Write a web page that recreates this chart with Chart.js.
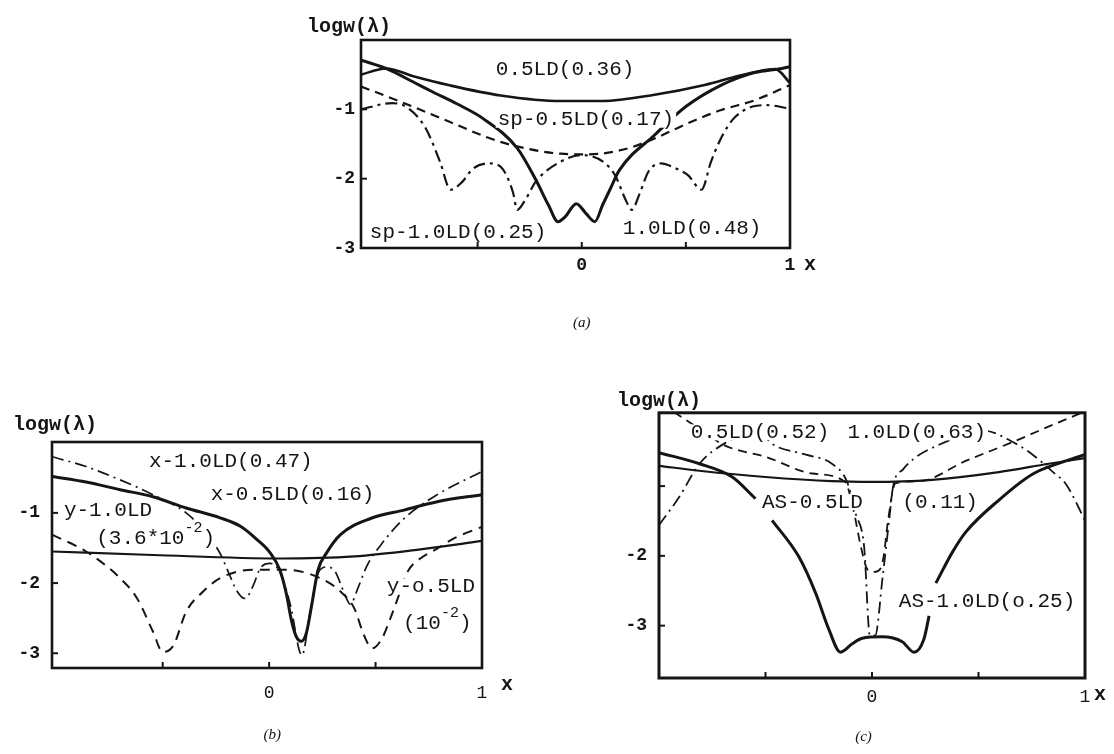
<!DOCTYPE html>
<html>
<head>
<meta charset="utf-8">
<script src="https://cdn.jsdelivr.net/npm/chart.js@4.4.1/dist/chart.umd.min.js"></script>
<style>
  html, body { margin: 0; padding: 0; background: #fff; }
  body { width: 1114px; height: 754px; position: relative; overflow: hidden; }
  canvas { position: absolute; }
</style>
</head>
<body>
<canvas id="chartA" width="550" height="340" style="left:290px;top:0px"></canvas>
<canvas id="chartB" width="540" height="354" style="left:0px;top:400px"></canvas>
<canvas id="chartC" width="524" height="364" style="left:590px;top:390px"></canvas>
<script>
// ---- panel (a) ----
const aX_05LD = [-1.06, -0.94, -0.8, -0.64, -0.39, -0.1, 0.1, 0.35, 0.59, 0.75, 0.85, 0.93, 1.0];
const aY_05LD = [-0.5, -0.41, -0.53, -0.65, -0.8, -0.88, -0.88, -0.79, -0.65, -0.52, -0.45, -0.42, -0.62];
const aX_10LD = [-1.06, -0.94, -0.8, -0.715, -0.6, -0.475, -0.31, -0.22, -0.16, -0.114, -0.08, -0.026, 0.02, 0.063, 0.1, 0.135, 0.18, 0.35, 0.5, 0.67, 0.83, 0.96, 1.0];
const aY_10LD = [-0.29, -0.41, -0.62, -0.75, -0.92, -1.13, -1.56, -2.02, -2.38, -2.62, -2.55, -2.36, -2.5, -2.62, -2.38, -2.16, -1.88, -1.37, -0.96, -0.65, -0.47, -0.41, -0.385];
const aX_sp05 = [-1.06, -0.87, -0.635, -0.39, -0.1, 0.03, 0.2, 0.35, 0.51, 0.67, 0.83, 1.0];
const aY_sp05 = [-0.67, -0.89, -1.18, -1.47, -1.64, -1.65, -1.58, -1.42, -1.2, -1.01, -0.87, -0.65];
const aX_sp10 = [-1.06, -0.91, -0.83, -0.75, -0.68, -0.63, -0.575, -0.52, -0.44, -0.38, -0.33, -0.31, -0.27, -0.22, -0.105, 0, 0.1, 0.16, 0.21, 0.24, 0.28, 0.32, 0.38, 0.45, 0.51, 0.575, 0.62, 0.66, 0.7, 0.74, 0.82, 0.89, 1.0];
const aY_sp10 = [-1.0, -0.91, -0.99, -1.27, -1.76, -2.16, -2.05, -1.85, -1.78, -1.86, -2.2, -2.45, -2.3, -2.04, -1.76, -1.66, -1.75, -1.95, -2.3, -2.45, -2.2, -1.9, -1.78, -1.85, -1.95, -2.16, -1.76, -1.47, -1.25, -1.1, -0.96, -0.94, -0.99];
const aXTicks = [-0.5, 0, 0.5, 1];
const aXTickText = ['', '0', '', '1'];
const aYTicks = [-1, -2, -3];
const aYTickText = ['-1', '-2', '-3'];

// ---- panel (b) ----
const bX_x10 = [-1.02, -0.86, -0.7, -0.546, -0.39, -0.295, -0.23, -0.192, -0.15, -0.113, -0.074, -0.042, 0.005, 0.05, 0.099, 0.154, 0.193, 0.233, 0.272, 0.311, 0.35, 0.381, 0.42, 0.46, 0.524, 0.634, 0.79, 1.0];
const bY_x10 = [-0.2, -0.34, -0.53, -0.74, -1.0, -1.29, -1.58, -1.84, -2.12, -2.22, -2.03, -1.79, -1.72, -1.84, -2.3, -3.03, -2.41, -1.84, -1.77, -1.84, -2.12, -2.3, -2.05, -1.75, -1.46, -1.08, -0.74, -0.41];
const bX_x05 = [-1.02, -0.86, -0.7, -0.546, -0.39, -0.23, -0.135, -0.057, 0.005, 0.05, 0.08, 0.104, 0.127, 0.151, 0.175, 0.199, 0.23, 0.27, 0.335, 0.476, 0.634, 0.79, 1.0];
const bY_x05 = [-0.48, -0.56, -0.67, -0.77, -0.93, -1.07, -1.19, -1.38, -1.57, -1.81, -2.14, -2.52, -2.76, -2.83, -2.71, -2.33, -1.81, -1.57, -1.31, -1.08, -0.96, -0.84, -0.74];
const bX_y10 = [-1.02, -0.86, -0.7, -0.62, -0.546, -0.5, -0.45, -0.39, -0.31, -0.23, -0.074, 0.08, 0.24, 0.335, 0.4, 0.445, 0.484, 0.53, 0.57, 0.61, 0.65, 0.71, 0.79, 0.87, 1.0];
const bY_y10 = [-1.31, -1.55, -1.93, -2.22, -2.69, -2.98, -2.89, -2.41, -2.12, -1.93, -1.81, -1.81, -1.93, -2.12, -2.36, -2.74, -2.93, -2.79, -2.5, -2.17, -1.84, -1.65, -1.51, -1.36, -1.2];
const bX_y05 = [-1.02, -0.546, 0.05, 0.4, 0.71, 1.0];
const bY_y05 = [-1.55, -1.6, -1.65, -1.62, -1.52, -1.4];
const bXTicks = [-0.5, 0, 0.5, 1];
const bXTickText = ['', '0', '', '1'];
const bYTicks = [-1, -2, -3];
const bYTickText = ['-1', '-2', '-3'];

// ---- panel (c) ----
const cX_as10 = [-1.0, -0.81, -0.656, -0.547, -0.51, -0.469, -0.344, -0.265, -0.203, -0.148, -0.093, -0.046, 0.048, 0.142, 0.197, 0.244, 0.268, 0.284, 0.3, 0.377, 0.44, 0.596, 0.753, 0.91, 1.0];
const cY_as10 = [-0.52, -0.68, -0.87, -1.18, null, -1.49, -2.01, -2.53, -3.05, -3.38, -3.26, -3.18, -3.16, -3.23, -3.38, -3.19, -2.86, null, -2.39, -1.95, -1.66, -1.2, -0.83, -0.64, -0.55];
const cX_as05 = [-1.0, -0.81, -0.5, -0.188, 0.0, 0.282, 0.596, 0.83, 1.0];
const cY_as05 = [-0.71, -0.78, -0.87, -0.93, -0.94, -0.91, -0.8, -0.68, -0.6];
const cX_05 = [-1.0, -0.906, -0.81, -0.687, -0.55, -0.45, -0.31, -0.188, -0.117, -0.076, -0.037, -0.01, 0.015, 0.05, 0.08, 0.1, 0.146, 0.2, 0.32, 0.45, 0.53, 0.65, 0.75, 0.85, 0.91, 1.0];
const cY_05 = [-1.56, -1.16, -0.68, -0.38, -0.22, -0.43, -0.55, -0.68, -0.94, -1.4, -1.87, -3.14, -3.14, -2.3, -1.5, -0.99, -0.76, -0.6, -0.4, -0.25, -0.21, -0.35, -0.54, -0.8, -0.97, -1.49];
const cX_10 = [-0.93, -0.8, -0.69, -0.5, -0.28, -0.126, -0.09, -0.05, -0.02, 0.01, 0.04, 0.055, 0.075, 0.11, 0.22, 0.44, 0.675, 0.85, 1.0];
const cY_10 = [0.06, -0.2, -0.42, -0.58, -0.82, -0.94, -1.3, -1.9, -2.2, -2.23, -2.18, -2.0, -1.5, -0.96, -0.93, -0.64, -0.35, -0.12, 0.07];
const cXTicks = [-0.5, 0, 0.5, 1];
const cXTickText = ['', '0', '', '1'];
const cYTicks = [-1, -2, -3];
const cYTickText = ['', '-2', '-3'];

const INK = '#151515';
const MONO = 'Liberation Mono';
const LABEL_FONT = '21px "' + MONO + '"';
const SUP_FONT = '15px "' + MONO + '"';
const AXIS_FONT = 'bold 20px "' + MONO + '"';
const CAPTION_FONT = 'italic 15px "Liberation Serif"';

function curve(xs, ys, width, dash) {
  return {
    data: xs.map((x, i) => ({ x: x, y: ys[i] })),
    borderColor: INK,
    borderWidth: width,
    borderDash: dash || [],
    pointRadius: 0,
    fill: false,
    spanGaps: false,
    cubicInterpolationMode: 'monotone'
  };
}

// text label centred on a data point, with an optional superscript part
function drawLabel(ctx, l, px, py) {
  const sup = l.sup || '', tail = l.tail || '';
  ctx.font = LABEL_FONT;
  const w1 = ctx.measureText(l.text).width;
  const w3 = ctx.measureText(tail).width;
  ctx.font = SUP_FONT;
  const w2 = ctx.measureText(sup).width;
  const total = w1 + w2 + w3;
  let sx = px - total / 2;
  ctx.fillStyle = '#fff';
  ctx.fillRect(sx - 2, py - 8 - (sup ? 8 : 0), total + 4, 16 + (sup ? 8 : 0));
  ctx.fillStyle = INK;
  ctx.textAlign = 'left';
  ctx.textBaseline = 'middle';
  ctx.font = LABEL_FONT;
  ctx.fillText(l.text, sx, py);
  if (sup) {
    ctx.font = SUP_FONT;
    ctx.fillText(sup, sx + w1, py - 10);
    ctx.font = LABEL_FONT;
    ctx.fillText(tail, sx + w1 + w2, py);
  }
}

const decor = {
  id: 'decor',
  afterDatasetsDraw(chart, args, o) {
    const ctx = chart.ctx, ca = chart.chartArea;
    const xs = chart.scales.x, ys = chart.scales.y;
    ctx.save();
    o.labels.forEach(l => drawLabel(ctx, l, xs.getPixelForValue(l.x), ys.getPixelForValue(l.y)));
    // box round the plot
    ctx.strokeStyle = INK;
    ctx.lineWidth = o.frameWidth;
    ctx.strokeRect(ca.left, ca.top, ca.right - ca.left, ca.bottom - ca.top);
    // small inward ticks
    ctx.lineWidth = 2;
    o.innerX.forEach(v => {
      const p = xs.getPixelForValue(v);
      ctx.beginPath(); ctx.moveTo(p, ca.bottom); ctx.lineTo(p, ca.bottom - 6); ctx.stroke();
    });
    o.innerY.forEach(v => {
      const p = ys.getPixelForValue(v);
      ctx.beginPath(); ctx.moveTo(ca.left, p); ctx.lineTo(ca.left + 6, p); ctx.stroke();
    });
    // axis names and caption
    ctx.fillStyle = INK;
    ctx.font = AXIS_FONT;
    ctx.textBaseline = 'middle';
    ctx.textAlign = 'left';
    ctx.fillText('logw(λ)', ca.left + o.yName[0], ca.top + o.yName[1]);
    ctx.textAlign = 'center';
    ctx.fillText('x', ca.right + o.xName[0], ca.bottom + o.xName[1]);
    ctx.font = CAPTION_FONT;
    ctx.fillText(o.caption, xs.getPixelForValue(o.captionX), ca.bottom + o.captionDy);
    ctx.restore();
  }
};

function makePanel(id, p) {
  return new Chart(document.getElementById(id), {
    type: 'line',
    data: { datasets: p.datasets },
    options: {
      responsive: false,
      animation: false,
      devicePixelRatio: 1,
      events: [],
      layout: { padding: { left: 0, top: p.padTop, right: p.padRight, bottom: 0 } },
      scales: {
        x: {
          type: 'linear', min: p.xMin, max: p.xMax,
          afterFit: s => { s.height = p.xAxisHeight; },
          afterBuildTicks: s => { s.ticks = p.xTicks.map(v => ({ value: v })); },
          ticks: {
            callback: (v, i) => p.xTickText[i],
            autoSkip: false, maxRotation: 0, padding: p.xTickPad,
            color: INK, font: { family: MONO, size: 18, weight: p.xBold ? 'bold' : 'normal' }
          },
          grid: { display: false, drawTicks: false },
          border: { display: false }
        },
        y: {
          type: 'linear', min: p.yMin, max: p.yMax,
          afterFit: s => { s.width = p.yAxisWidth; },
          afterBuildTicks: s => { s.ticks = p.yTicks.map(v => ({ value: v })); },
          ticks: {
            callback: (v, i) => p.yTickText[i],
            autoSkip: false, padding: p.yTickPad,
            color: INK, font: { family: MONO, size: 18, weight: 'bold' }
          },
          grid: { display: false, drawTicks: false },
          border: { display: false }
        }
      },
      plugins: {
        legend: { display: false },
        tooltip: { enabled: false },
        decor: p.decor
      }
    },
    plugins: [decor]
  });
}

// (a)
makePanel('chartA', {
  datasets: [
    curve(aX_05LD, aY_05LD, 2.6),
    curve(aX_10LD, aY_10LD, 3),
    curve(aX_sp05, aY_sp05, 2.2, [9, 6]),
    curve(aX_sp10, aY_sp10, 2.2, [12, 5, 3, 5])
  ],
  xMin: -1.06, xMax: 1, yMin: -3, yMax: 0,
  padTop: 40, padRight: 50, xAxisHeight: 92, yAxisWidth: 71,
  xTicks: aXTicks, xTickText: aXTickText, yTicks: aYTicks, yTickText: aYTickText,
  xTickPad: 7, yTickPad: 6, xBold: true,
  decor: {
    frameWidth: 2.6, innerX: [-0.5, 0, 0.5], innerY: [-1, -2],
    yName: [-54, -13], xName: [20, 17], caption: '(a)', captionX: 0, captionDy: 75,
    labels: [
      { text: '0.5LD(0.36)', x: -0.08, y: -0.42 },
      { text: 'sp-0.5LD(0.17)', x: 0.02, y: -1.15 },
      { text: 'sp-1.0LD(0.25)', x: -0.594, y: -2.78 },
      { text: '1.0LD(0.48)', x: 0.53, y: -2.72 }
    ]
  }
});

// (b)
makePanel('chartB', {
  datasets: [
    curve(bX_x10, bY_x10, 1.7, [12, 5, 2, 5]),
    curve(bX_x05, bY_x05, 3),
    curve(bX_y10, bY_y10, 2, [10, 7]),
    curve(bX_y05, bY_y05, 2.2)
  ],
  xMin: -1.02, xMax: 1, yMin: -3.21, yMax: 0.01,
  padTop: 42, padRight: 58, xAxisHeight: 86, yAxisWidth: 52,
  xTicks: bXTicks, xTickText: bXTickText, yTicks: bYTicks, yTickText: bYTickText,
  xTickPad: 14, yTickPad: 12, xBold: false,
  decor: {
    frameWidth: 2.6, innerX: [-0.5, 0, 0.5], innerY: [-1, -2, -3],
    yName: [-39, -17], xName: [25, 17], caption: '(b)', captionX: 0.015, captionDy: 67,
    labels: [
      { text: 'x-1.0LD(0.47)', x: -0.18, y: -0.27 },
      { text: 'x-0.5LD(0.16)', x: 0.11, y: -0.74 },
      { text: 'y-1.0LD', x: -0.757, y: -0.96 },
      { text: '(3.6*10', sup: '-2', tail: ')', x: -0.533, y: -1.36 },
      { text: 'y-o.5LD', x: 0.76, y: -2.05 },
      { text: '(10', sup: '-2', tail: ')', x: 0.79, y: -2.57 }
    ]
  }
});

// (c)
makePanel('chartC', {
  datasets: [
    curve(cX_as10, cY_as10, 3),
    curve(cX_as05, cY_as05, 2.2),
    curve(cX_05, cY_05, 1.8, [12, 5, 2, 5]),
    curve(cX_10, cY_10, 1.8, [9, 6])
  ],
  xMin: -1, xMax: 1, yMin: -3.75, yMax: 0.05,
  padTop: 20, padRight: 29, xAxisHeight: 76, yAxisWidth: 69,
  xTicks: cXTicks, xTickText: cXTickText, yTicks: cYTicks, yTickText: cYTickText,
  xTickPad: 8, yTickPad: 12, xBold: false,
  decor: {
    frameWidth: 3, innerX: [-0.5, 0, 0.5], innerY: [-1, -2, -3],
    yName: [-42, -12], xName: [15, 17], caption: '(c)', captionX: -0.04, captionDy: 59,
    labels: [
      { text: '0.5LD(0.52)', x: -0.526, y: -0.23 },
      { text: '1.0LD(0.63)', x: 0.21, y: -0.23 },
      { text: 'AS-0.5LD', x: -0.28, y: -1.23 },
      { text: '(0.11)', x: 0.32, y: -1.23 },
      { text: 'AS-1.0LD(o.25)', x: 0.54, y: -2.65 }
    ]
  }
});
</script>
</body>
</html>
